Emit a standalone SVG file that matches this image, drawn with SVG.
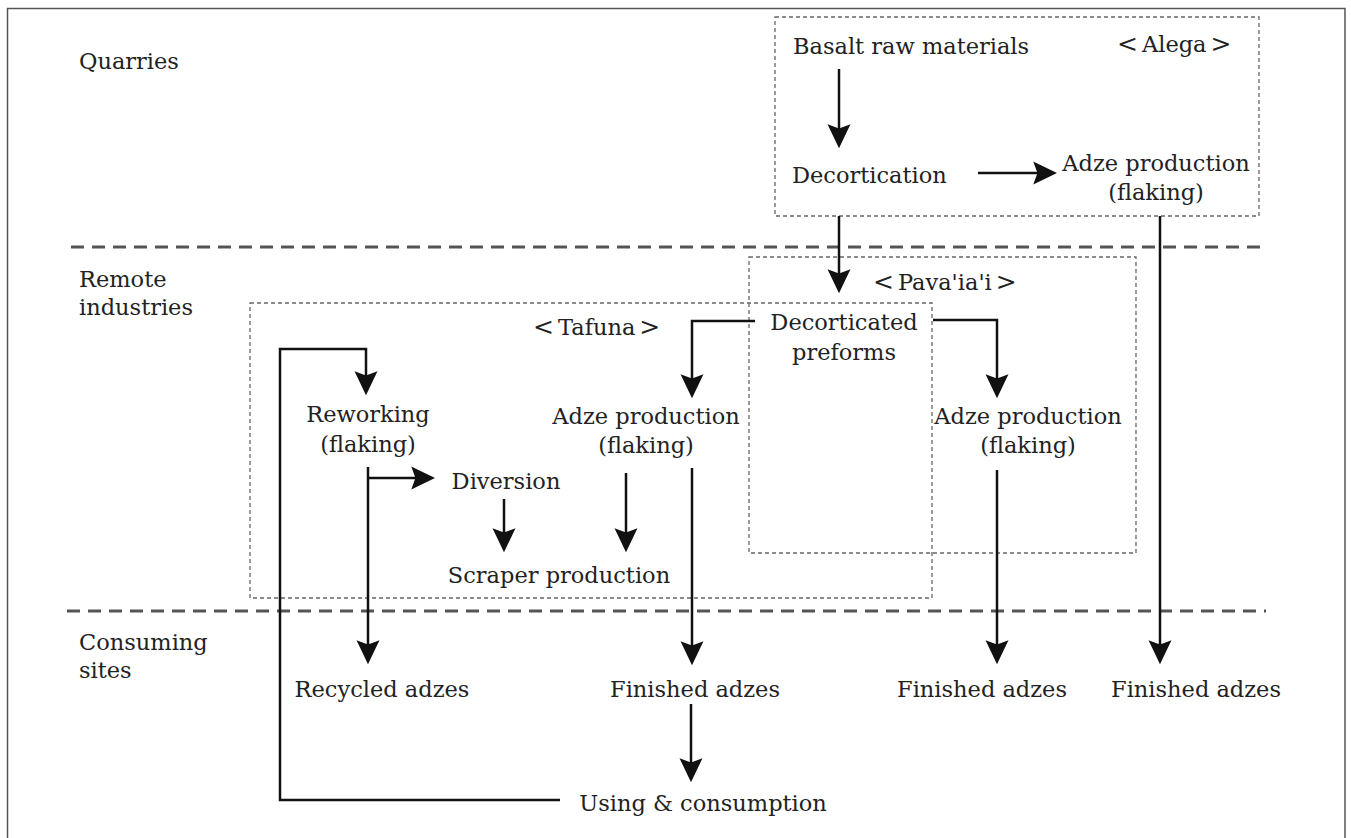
<svg xmlns="http://www.w3.org/2000/svg" width="1351" height="838" viewBox="0 0 1351 838">
<style>
text{font-family:"DejaVu Serif","Liberation Serif",serif;font-size:22.5px;fill:#222}
.c{text-anchor:middle}
.b{font-size:25px}
.sep{stroke:#555;stroke-width:3;stroke-dasharray:13 8;fill:none}
.grp{stroke:#666;stroke-width:1.3;stroke-dasharray:4 3;fill:none}
.con{stroke:#111;stroke-width:2.5;fill:none}
.arr{marker-end:url(#ah)}
</style>
<defs>
<marker id="ah" markerUnits="userSpaceOnUse" markerWidth="24" markerHeight="24" viewBox="0 0 23 22" refX="17" refY="11" orient="auto">
<path d="M0,0 L23,11 L0,22 L4,11 Z" fill="#111"/>
</marker>
</defs>
<rect x="0" y="0" width="1351" height="838" fill="#fff"/>
<path d="M7.5,845 V8.5 H1345 V845" fill="none" stroke="#555" stroke-width="1.5"/>

<g id="lanes">
<line class="sep" x1="71" y1="247" x2="1268" y2="247"/>
<line class="sep" x1="67" y1="611" x2="1266" y2="611"/>
<text x="79" y="69">Quarries</text>
<text x="79" y="287">Remote</text>
<text x="79" y="315">industries</text>
<text x="79" y="650">Consuming</text>
<text x="79" y="678">sites</text>
</g>

<g id="group-alega">
<rect class="grp" x="775" y="17" width="484" height="199"/>
<text x="1117" y="52"><tspan class="b">&lt;</tspan><tspan dx="4">Alega</tspan><tspan class="b" dx="4">&gt;</tspan></text>
</g>
<g id="group-pavaiai">
<rect class="grp" x="749" y="257" width="387" height="296"/>
<text x="873" y="290"><tspan class="b">&lt;</tspan><tspan dx="4">Pava'ia'i</tspan><tspan class="b" dx="4">&gt;</tspan></text>
</g>
<g id="group-tafuna">
<rect class="grp" x="250" y="303" width="682" height="295"/>
<text x="533" y="335"><tspan class="b">&lt;</tspan><tspan dx="4">Tafuna</tspan><tspan class="b" dx="4">&gt;</tspan></text>
</g>

<g id="connectors">
<path class="con arr" d="M839,69 V142"/>
<path class="con arr" d="M978,173 H1051"/>
<path class="con arr" d="M839,216 V287"/>
<path class="con arr" d="M1160,216 V658"/>
<path class="con arr" d="M755,321 H692 V392"/>
<path class="con arr" d="M933,320 H997 V392"/>
<path class="con arr" d="M997,470 V658"/>
<path class="con arr" d="M692,468 V659"/>
<path class="con arr" d="M626,473 V546"/>
<path class="con arr" d="M504,499 V546"/>
<path class="con arr" d="M368,467 V658"/>
<path class="con arr" d="M368,478 H429"/>
<path class="con arr" d="M691,704 V776"/>
<path class="con arr" d="M560,800 H280 V349 H366 V389"/>
</g>

<g id="n-basalt"><text x="793" y="54">Basalt raw materials</text></g>
<g id="n-decortication"><text x="792" y="183">Decortication</text></g>
<g id="n-adze-alega"><text class="c" x="1156" y="171">Adze production</text><text class="c" x="1156" y="200">(flaking)</text></g>
<g id="n-preforms"><text class="c" x="844" y="330">Decorticated</text><text class="c" x="844" y="360">preforms</text></g>
<g id="n-adze-tafuna"><text class="c" x="646" y="424">Adze production</text><text class="c" x="646" y="453">(flaking)</text></g>
<g id="n-adze-pavaiai"><text class="c" x="1028" y="424">Adze production</text><text class="c" x="1028" y="453">(flaking)</text></g>
<g id="n-reworking"><text class="c" x="368" y="422">Reworking</text><text class="c" x="368" y="452">(flaking)</text></g>
<g id="n-diversion"><text class="c" x="506" y="489">Diversion</text></g>
<g id="n-scraper"><text class="c" x="559" y="583">Scraper production</text></g>
<g id="n-recycled"><text class="c" x="382" y="697">Recycled adzes</text></g>
<g id="n-finished-tafuna"><text class="c" x="695" y="697">Finished adzes</text></g>
<g id="n-finished-pavaiai"><text class="c" x="982" y="697">Finished adzes</text></g>
<g id="n-finished-alega"><text class="c" x="1196" y="697">Finished adzes</text></g>
<g id="n-using"><text class="c" x="703" y="811">Using &amp; consumption</text></g>
</svg>
